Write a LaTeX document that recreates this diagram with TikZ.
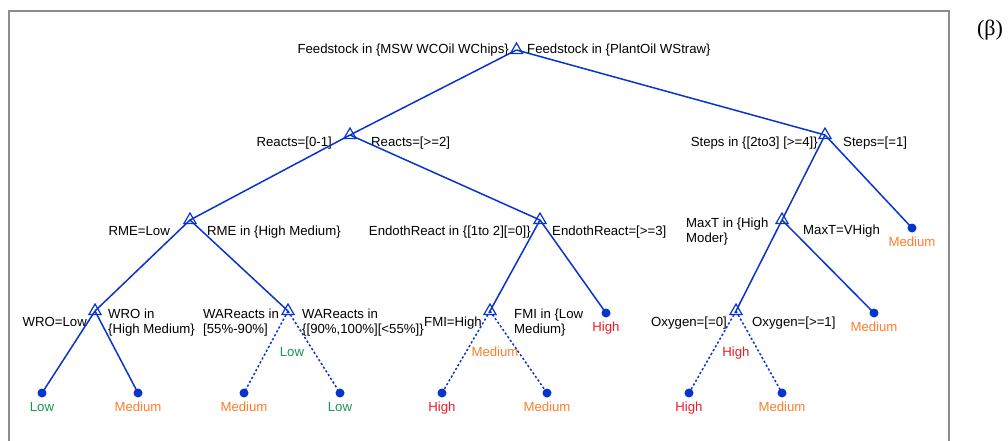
\documentclass[tikz,border=0pt]{standalone}
\usepackage{fontspec}
\setmainfont{Liberation Sans}
\newfontfamily\greekserif{Liberation Serif}
\usetikzlibrary{shapes.geometric}

\definecolor{treeblue}{RGB}{8,52,204}
\definecolor{clsgreen}{RGB}{24,150,80}
\definecolor{clsorange}{RGB}{255,125,40}
\definecolor{clsred}{RGB}{232,28,40}
\definecolor{framegray}{RGB}{140,140,140}

\begin{document}
\begin{tikzpicture}[
    x=1pt, y=-1pt,
    font=\fontsize{13.2}{15}\selectfont,
    split/.style={regular polygon, regular polygon sides=3, draw=treeblue,
                  line width=1.2pt, minimum size=14pt, inner sep=0pt},
    leaf/.style={circle, fill=treeblue, minimum size=9pt, inner sep=0pt},
    edge/.style={treeblue, line width=1.5pt},
    guess/.style={edge, dash pattern=on 2.2pt off 2.2pt},
    rule/.style={inner sep=0pt, align=left},
    low/.style={text=clsgreen, inner sep=0pt},
    med/.style={text=clsorange, inner sep=0pt},
    high/.style={text=clsred, inner sep=0pt},
    label distance=4.3pt
]
\useasboundingbox (0,0) rectangle (1008,441);
\draw[framegray, line width=2pt] (8.5,446) |- (949,11) -- (949,446);
\node[font=\greekserif\fontsize{22}{26}\selectfont] (tag) at (990,30) {(β)};

% splits
\node[split] (root) at (516.5,50) {};
\node[split] (reacts) at (350,135) {};
\node[split] (steps) at (825,135) {};
\node[split] (rme) at (190,220) {};
\node[split] (endoth) at (540,220) {};
\node[split] (maxt) at (782,220) {};
\node[split] (wro) at (95,311) {};
\node[split, label={[low, label distance=32pt, xshift=4pt]below:Low}] (wareacts) at (288,311) {};
\node[split, label={[med, label distance=32pt, xshift=5pt]below:Medium}] (fmi) at (490,311) {};
\node[split, label={[high, label distance=32pt]below:High}] (oxygen) at (736,311) {};

% leaves
\node[leaf, label={[med]below:Medium}] (stepMed) at (912,228) {};
\node[leaf, label={[high]below:High}] (endHigh) at (606,313) {};
\node[leaf, label={[med]below:Medium}] (maxMed) at (874,313) {};
\node[leaf, label={[low]below:Low}] (wroLow) at (42,393) {};
\node[leaf, label={[med]below:Medium}] (wroMed) at (138,393) {};
\node[leaf, label={[med]below:Medium}] (waMed) at (244,393) {};
\node[leaf, label={[low]below:Low}] (waLow) at (340,393) {};
\node[leaf, label={[high]below:High}] (fmiHigh) at (442,393) {};
\node[leaf, label={[med]below:Medium}] (fmiMed) at (547,393) {};
\node[leaf, label={[high]below:High}] (oxHigh) at (689,393) {};
\node[leaf, label={[med]below:Medium}] (oxMed) at (782,393) {};

% split rules
\node[rule, anchor=base east] (rootL) at (509,54) {Feedstock in \{MSW WCOil WChips\}};
\node[rule, anchor=base west] (rootR) at (527,54) {Feedstock in \{PlantOil WStraw\}};
\node[rule, anchor=base east] (reactsL) at (332,146) {Reacts=[0-1]};
\node[rule, anchor=base west] (reactsR) at (371,146) {Reacts=[>=2]};
\node[rule, anchor=base east] (stepsL) at (818,146) {Steps in \{[2to3] [>=4]\}};
\node[rule, anchor=base west] (stepsR) at (843,146) {Steps=[=1]};
\node[rule, anchor=base east] (rmeL) at (170,235.5) {RME=Low};
\node[rule, anchor=base west] (rmeR) at (207,235.5) {RME in \{High Medium\}};
\node[rule, anchor=base east] (endothL) at (531,235.5) {EndothReact in \{[1to 2][=0]\}};
\node[rule, anchor=base west] (endothR) at (552,235.5) {EndothReact=[>=3]};
\node[rule, anchor=north west] (maxtL) at (686,218) {MaxT in \{High\\Moder\}};
\node[rule, anchor=base west] (maxtR) at (803,234.5) {MaxT=VHigh};
\node[rule, anchor=base east] (wroL) at (87,326.5) {WRO=Low};
\node[rule, anchor=north west] (wroR) at (108,309) {WRO in\\\{High Medium\}};
\node[rule, anchor=north west] (wareactsL) at (203,309) {WAReacts in\\{[}55\%-90\%]};
\node[rule, anchor=north west] (wareactsR) at (302,309) {WAReacts in\\\{[90\%,100\%][<55\%]\}};
\node[rule, anchor=base east] (fmiL) at (482,326.5) {FMI=High};
\node[rule, anchor=north west] (fmiR) at (514,309) {FMI in \{Low\\Medium\}};
\node[rule, anchor=base east] (oxygenL) at (727,326.5) {Oxygen=[=0]};
\node[rule, anchor=base west] (oxygenR) at (752,326.5) {Oxygen=[>=1]};

\draw[edge] (root.center) -- (reacts.center);
\draw[edge] (root.center) -- (steps.center);
\draw[edge] (reacts.center) -- (rme.center);
\draw[edge] (reacts.center) -- (endoth.center);
\draw[edge] (steps.center) -- (maxt.center);
\draw[edge] (steps.center) -- (stepMed.center);
\draw[edge] (rme.center) -- (wro.center);
\draw[edge] (rme.center) -- (wareacts.center);
\draw[edge] (endoth.center) -- (fmi.center);
\draw[edge] (endoth.center) -- (endHigh.center);
\draw[edge] (maxt.center) -- (oxygen.center);
\draw[edge] (maxt.center) -- (maxMed.center);
\draw[edge] (wro.center) -- (wroLow.center);
\draw[edge] (wro.center) -- (wroMed.center);
\draw[guess] (wareacts.center) -- (waMed.center);
\draw[guess] (wareacts.center) -- (waLow.center);
\draw[guess] (fmi.center) -- (fmiHigh.center);
\draw[guess] (fmi.center) -- (fmiMed.center);
\draw[guess] (oxygen.center) -- (oxHigh.center);
\draw[guess] (oxygen.center) -- (oxMed.center);
\end{tikzpicture}
\end{document}
